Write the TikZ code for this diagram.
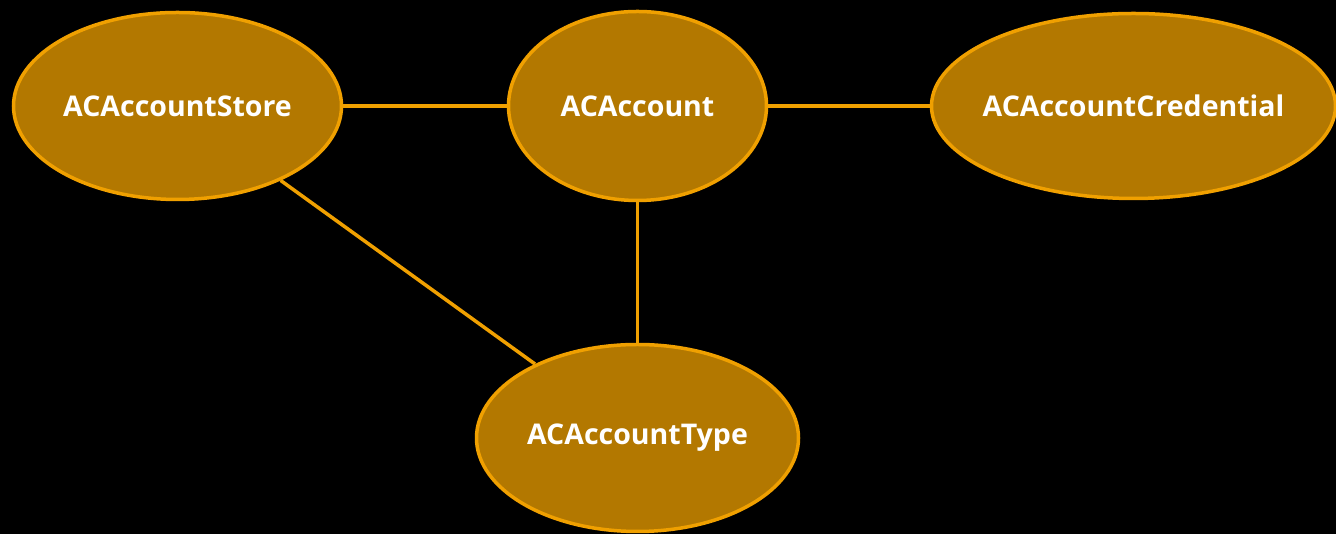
\documentclass[tikz,border=0pt]{standalone}
\usepackage{fontspec}
\setmainfont{Open Sans}
\usetikzlibrary{shapes.geometric}
\definecolor{gold}{RGB}{179,120,0}
\definecolor{amber}{RGB}{240,160,0}

\begin{document}
\begin{tikzpicture}[x=1pt,y=1pt,
  cls/.style={ellipse,draw=amber,fill=gold,line width=3.5pt,inner sep=0pt,
    text=white,font=\fontsize{28.5}{32}\selectfont\bfseries},
  link/.style={amber,line width=3.5pt}]
\fill [black] (0,0) rectangle (1336,534);
\useasboundingbox (0,0) rectangle (1336,534);

\node [cls,minimum width=328,minimum height=187] (store) at (177.5,428) {ACAccountStore};
\node [cls,minimum width=258,minimum height=189] (account) at (637.5,428) {ACAccount};
\node [cls,inner sep=-10pt,minimum width=404,minimum height=185] (cred) at (1133.5,428) {ACAccountCredential};
\node [cls,minimum width=322,minimum height=187] (type) at (637.5,96) {ACAccountType};

\draw [link] (store) -- (account);
\draw [link] (account) -- (cred);
\draw [link] (account) -- (type);
\draw [link] (store) -- (type);

\end{tikzpicture}
\end{document}
